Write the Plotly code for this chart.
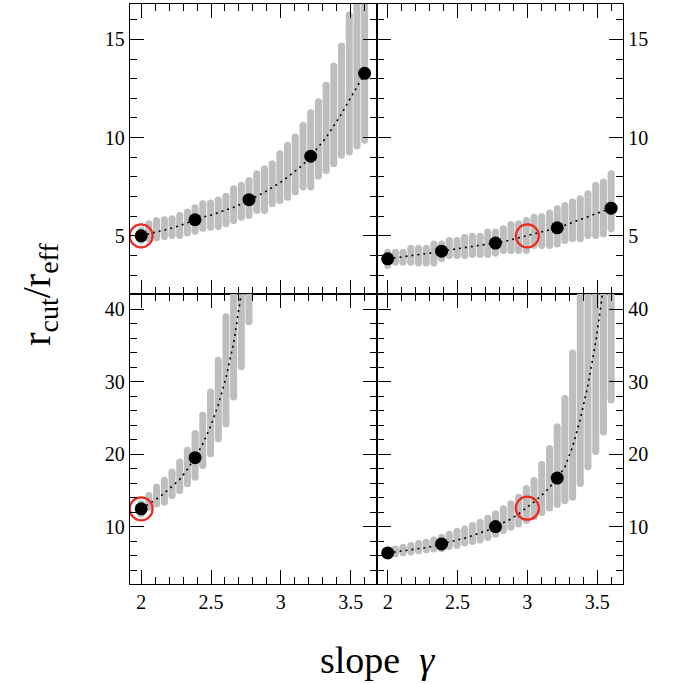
import plotly.graph_objects as go
from plotly.subplots import make_subplots

# slope grid of the sampled models (same in every panel)
gamma = [2.000, 2.055, 2.110, 2.166, 2.221, 2.276, 2.331, 2.386, 2.441, 2.497,
         2.552, 2.607, 2.662, 2.717, 2.772, 2.828, 2.883, 2.938, 2.993, 3.048,
         3.103, 3.159, 3.214, 3.269, 3.324, 3.379, 3.434, 3.490, 3.545, 3.600]
gamma_dots = [2.000, 2.386, 2.772, 3.214, 3.600]

# top left panel
tl_mid = [5.00, 5.10, 5.20, 5.28, 5.40, 5.52, 5.67, 5.82, 5.95, 6.05,
          6.18, 6.30, 6.45, 6.62, 6.84, 7.02, 7.22, 7.45, 7.70, 7.98,
          8.28, 8.62, 9.05, 9.50, 10.0, 10.6, 11.2, 11.9, 12.6, 13.27]
tl_lo = [4.76, 4.85, 4.90, 4.97, 5.02, 5.02, 5.14, 5.24, 5.39, 5.44,
         5.48, 5.61, 5.78, 5.95, 6.04, 6.29, 6.29, 6.63, 6.80, 6.97,
         7.23, 7.48, 7.48, 8.03, 8.33, 8.67, 9.10, 9.27, 9.57, 9.87]
tl_hi = [5.27, 5.61, 5.78, 5.82, 5.87, 6.04, 6.21, 6.43, 6.63, 6.67,
         6.83, 7.01, 7.40, 7.57, 7.82, 8.16, 8.42, 8.67, 9.18, 9.61,
         10.03, 10.63, 11.26, 11.82, 12.67, 13.64, 14.66, 16.24, 18.0, 19.5]
tl_dots = [5.00, 5.82, 6.84, 9.05, 13.27]

# top right panel
tr_mid = [3.83, 3.88, 3.93, 3.98, 4.03, 4.08, 4.15, 4.22, 4.28, 4.33,
          4.38, 4.44, 4.50, 4.56, 4.63, 4.70, 4.80, 4.90, 5.00, 5.10,
          5.20, 5.30, 5.41, 5.54, 5.68, 5.82, 5.96, 6.10, 6.25, 6.41]
tr_lo = [3.49, 3.66, 3.66, 3.66, 3.62, 3.62, 3.62, 3.83, 4.00, 4.00,
         4.00, 4.05, 4.05, 4.05, 4.12, 4.25, 4.25, 4.25, 4.25, 4.51,
         4.51, 4.51, 4.59, 4.76, 4.85, 4.85, 5.02, 5.02, 5.10, 5.36]
tr_hi = [4.17, 4.17, 4.17, 4.37, 4.37, 4.37, 4.59, 4.59, 4.76, 4.76,
         4.93, 4.98, 4.98, 5.19, 5.19, 5.36, 5.58, 5.61, 5.78, 5.95,
         5.99, 6.16, 6.38, 6.55, 6.72, 6.89, 7.14, 7.57, 7.74, 8.16]
tr_dots = [3.83, 4.22, 4.63, 5.41, 6.41]

# bottom left panel (only the first 15 slopes)
bl_mid = [12.44, 13.1, 13.8, 14.6, 15.5, 16.5, 17.9, 19.5, 21.4, 23.8,
          26.8, 30.5, 35.3, 41.5, 49.0]
bl_lo = [11.75, 12.66, 13.12, 13.35, 14.27, 14.97, 15.89, 16.81, 18.42, 20.05,
         22.11, 24.15, 27.85, 32.05, 38.25]
bl_hi = [13.15, 14.3, 15.45, 16.37, 17.52, 18.9, 20.52, 22.82, 25.35, 28.55,
         32.95, 38.95, 50.0, 55.0, 70.0]
bl_dots = [12.44, 19.5]

# bottom right panel
br_mid = [6.36, 6.50, 6.62, 6.75, 6.90, 7.10, 7.35, 7.60, 7.85, 8.10,
          8.40, 8.75, 9.10, 9.50, 10.0, 10.5, 11.05, 11.75, 12.53, 13.4,
          14.3, 15.4, 16.68, 18.2, 21.0, 24.8, 29.5, 35.5, 43.0, 55.0]
br_lo = [6.21, 6.25, 6.40, 6.50, 6.65, 6.80, 6.90, 6.95, 7.25, 7.40,
         7.75, 7.95, 8.15, 8.50, 8.95, 9.45, 9.90, 10.35, 10.85, 11.35,
         11.95, 12.55, 13.05, 13.55, 14.05, 15.95, 18.25, 20.35, 23.05, 27.45]
br_hi = [6.69, 6.92, 7.15, 7.38, 7.65, 7.85, 8.15, 8.54, 8.95, 9.35,
         9.65, 10.15, 10.61, 11.15, 11.75, 12.45, 13.15, 14.05, 15.25, 16.35,
         18.55, 20.75, 23.75, 27.65, 33.95, 46.0, 48.0, 55.0, 60.0, 70.0]
br_dots = [6.36, 7.60, 10.0, 16.68]

# the red rings
ring_x = [2.0, 3.0, 2.0, 3.0]
ring_y = [5.0, 5.0, 12.44, 12.53]

GREY = "#bebebe"
FONT = "Liberation Serif"

panels = [
    (1, 1, tl_mid, tl_lo, tl_hi, tl_dots),
    (1, 2, tr_mid, tr_lo, tr_hi, tr_dots),
    (2, 1, bl_mid, bl_lo, bl_hi, bl_dots),
    (2, 2, br_mid, br_lo, br_hi, br_dots),
]

fig = make_subplots(rows=2, cols=2, horizontal_spacing=0, vertical_spacing=0)

for i, (row, col, mid, lo, hi, dots) in enumerate(panels):
    xs = gamma[:len(mid)]

    # grey ranges, one thick segment per slope
    bx, by = [], []
    for x, a, b in zip(xs, lo, hi):
        bx += [x, x, None]
        by += [a, b, None]
    fig.add_trace(go.Scatter(x=bx, y=by, mode="lines+markers",
                             line=dict(color=GREY, width=7),
                             marker=dict(color=GREY, size=7),
                             hoverinfo="skip", showlegend=False), row=row, col=col)

    # dotted median curve
    fig.add_trace(go.Scatter(x=xs, y=mid, mode="lines",
                             line=dict(color="black", width=1.6, dash="2px,4px"),
                             showlegend=False), row=row, col=col)

    # black points
    fig.add_trace(go.Scatter(x=gamma_dots[:len(dots)], y=dots, mode="markers",
                             marker=dict(color="black", size=13),
                             showlegend=False), row=row, col=col)

    # red ring
    fig.add_trace(go.Scatter(x=[ring_x[i]], y=[ring_y[i]], mode="markers",
                             marker=dict(symbol="circle-open", color="#f2261a", size=23,
                                         line=dict(width=2.2)),
                             showlegend=False), row=row, col=col)

tick_style = dict(ticks="inside", ticklen=14, tickwidth=1.2, tickcolor="black",
                  showgrid=False, zeroline=False,
                  tickfont=dict(family=FONT, size=20, color="black"))
X_RANGE = [1.92, 3.685]
Y_RANGES = {1: [2.04, 16.8], 2: [2.08, 42.07]}
Y_DTICK = {1: (5, 1), 2: (10, 2)}


def minor(t0, dt):
    return dict(tick0=t0, dtick=dt, ticks="inside", ticklen=7,
                tickwidth=1.2, tickcolor="black")


# main axes: frame line (mirrored) plus ticks on the labelled side
for n, (row, col, *_rest) in enumerate(panels, start=1):
    ydt, ymd = Y_DTICK[row]
    fig.update_xaxes(range=X_RANGE, tick0=2, dtick=0.5, minor=minor(2, 0.1),
                     showline=True, linecolor="black", linewidth=1.3, mirror=True,
                     showticklabels=(row == 2), **tick_style, row=row, col=col)
    fig.update_yaxes(range=Y_RANGES[row], tick0=0, dtick=ydt, minor=minor(0, ymd),
                     showline=True, linecolor="black", linewidth=1.3, mirror=True,
                     side=("right" if col == 2 else "left"),
                     **tick_style, row=row, col=col)

# twin axes that carry the ticks of the opposite sides
layout_twins = {}
for n, (row, col, *_rest) in enumerate(panels, start=1):
    ydt, ymd = Y_DTICK[row]
    sx = "" if n == 1 else str(n)
    layout_twins["xaxis%d" % (n + 4)] = dict(
        overlaying="x" + sx, anchor="y" + sx, side="top", range=X_RANGE,
        tick0=2, dtick=0.5, minor=minor(2, 0.1), showticklabels=False,
        showline=False, **tick_style)
    layout_twins["yaxis%d" % (n + 4)] = dict(
        overlaying="y" + sx, anchor="x" + sx,
        side=("left" if col == 2 else "right"), range=Y_RANGES[row],
        tick0=0, dtick=ydt, minor=minor(0, ymd), showticklabels=False,
        showline=False, **tick_style)
    # empty traces so that the twin axes get drawn
    fig.add_trace(go.Scatter(x=[], y=[], xaxis="x%d" % (n + 4), yaxis="y" + sx,
                             showlegend=False, hoverinfo="skip"))
    fig.add_trace(go.Scatter(x=[], y=[], xaxis="x" + sx, yaxis="y%d" % (n + 4),
                             showlegend=False, hoverinfo="skip"))

fig.update_layout(**layout_twins)

fig.update_layout(
    width=687, height=684,
    margin=dict(l=130, r=64, t=4, b=100),
    plot_bgcolor="white", paper_bgcolor="white",
    showlegend=False,
    font=dict(family=FONT, color="black"),
    annotations=[
        dict(text="slope  <i>\u03b3</i>", xref="paper", yref="paper", x=0.503, y=-0.131,
             xanchor="center", yanchor="middle", showarrow=False,
             font=dict(family=FONT, size=38)),
        dict(text="r<sub>cut</sub>/r<sub>eff</sub>", xref="paper", yref="paper",
             x=-0.185, y=0.5, xanchor="center", yanchor="middle", textangle=-90,
             showarrow=False, font=dict(family=FONT, size=40)),
    ],
)

fig.write_html("out.html", config={"displayModeBar": False},
               post_script="document.body.style.margin = '0px';")
